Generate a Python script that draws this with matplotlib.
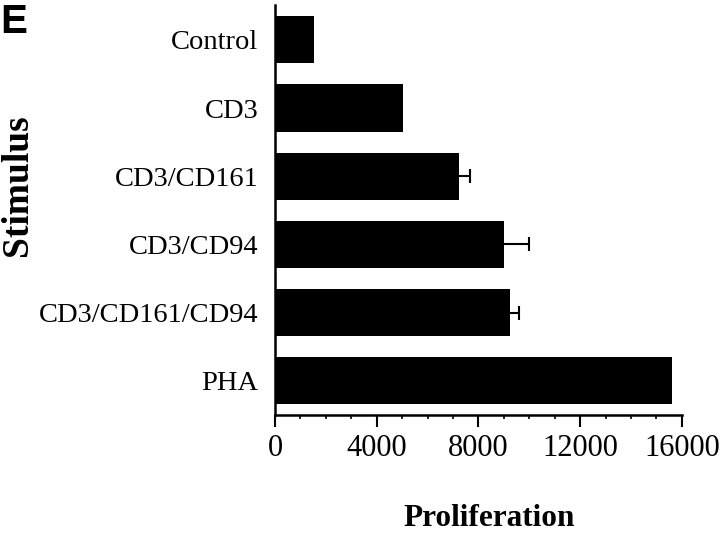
import matplotlib.pyplot as plt
import numpy as np

# Data
stimuli = ['Control', 'CD3', 'CD3/CD161', 'CD3/CD94', 'CD3/CD161/CD94', 'PHA']
proliferation = [1530, 5020, 7240, 9020, 9250, 15600]
errors = [0, 0, 430, 980, 330, 0]
xticks = [0, 4000, 8000, 12000, 16000]

serif = ['Liberation Serif', 'DejaVu Serif']

fig = plt.figure(figsize=(7.2, 5.42), dpi=100)
ax = fig.add_axes([0.382, 0.2343, 0.565, 0.7565])

y = np.arange(len(stimuli))
ax.barh(y, proliferation, height=0.69, color='black', zorder=2)

# one-sided error bars (positive only), cap only at the upper end
has_err = [i for i, e in enumerate(errors) if e > 0]
err_x = [proliferation[i] for i in has_err]
err_y = [y[i] for i in has_err]
err_v = [errors[i] for i in has_err]
ax.errorbar(err_x, err_y, xerr=[[0] * len(has_err), err_v],
            fmt='none', ecolor='black', elinewidth=1.5, capsize=0, zorder=3)
ax.plot(np.add(err_x, err_v), err_y, ls='none', marker='|', ms=10, mew=1.5,
        color='black', zorder=3)

ax.set_xlim(0, 16000)
ax.set_ylim(5.5, -0.51)
ax.set_xticks(xticks)
ax.set_xticks(np.arange(0, 16001, 1000), minor=True)
ax.set_xticklabels([str(t) for t in xticks], fontfamily=serif, fontsize=22)
ax.set_yticks(y)
ax.set_yticklabels(stimuli, fontfamily=serif, fontsize=20.5)

ax.spines['top'].set_visible(False)
ax.spines['right'].set_visible(False)
ax.spines['left'].set_linewidth(1.8)
ax.spines['bottom'].set_linewidth(1.8)
ax.tick_params(axis='x', which='major', direction='out', length=8.5, width=1.5, pad=5)
ax.tick_params(axis='x', which='minor', direction='out', length=3, width=1.2)
ax.tick_params(axis='y', length=0, pad=12)

fig.text(0.024, 0.659, 'Stimulus', rotation=90, ha='center', va='center',
         fontfamily=serif, fontweight='bold', fontsize=27)
fig.text(0.68, 0.044, 'Proliferation', ha='center', va='center',
         fontfamily=serif, fontweight='bold', fontsize=22.5)
fig.text(0.0, 0.995, 'E', ha='left', va='top',
         fontfamily=['Liberation Sans', 'DejaVu Sans'], fontweight='bold', fontsize=29)

plt.savefig('out.png', dpi=100)
